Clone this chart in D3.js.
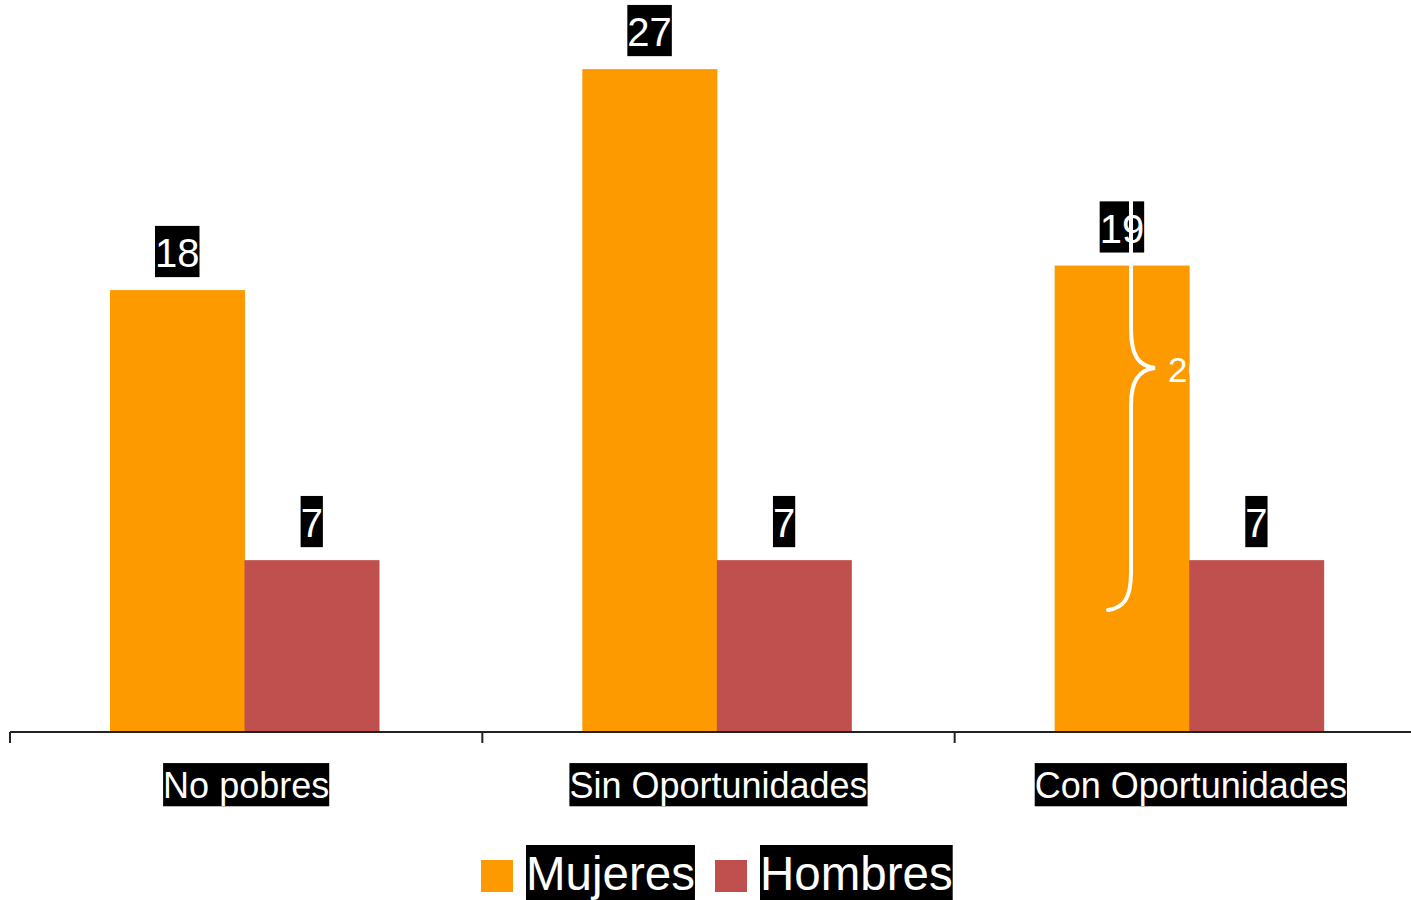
<!DOCTYPE html>
<html>
<head>
<meta charset="utf-8">
<script src="https://cdn.jsdelivr.net/npm/d3@7"></script>
<style>
  body { margin: 0; background: #fff; }
  svg { display: block; font-family: "Liberation Sans", Arial, sans-serif; }
</style>
</head>
<body>
<div id="chart"></div>
<script>
var categories = ['No pobres', 'Sin Oportunidades', 'Con Oportunidades'];
var series = ['Mujeres', 'Hombres'];
var mujeres = [18, 27, 19];
var hombres = [7, 7, 7];
var colors = ['#FD9A00', '#C0504D'];

var width = 1411, height = 900;
var baseY = 732;

var svg = d3.select('#chart')
    .append('svg')
    .attr('width', width)
    .attr('height', height);

var x0 = d3.scaleBand()
    .domain(categories)
    .range([10, 1427]);

var x1 = d3.scaleBand()
    .domain(series)
    .range([100, 369]);

var y = d3.scaleLinear()
    .domain([0, 30])
    .range([baseY, baseY - 30 * 24.55]);

var rows = categories.map(function(c, i) {
  return { cat: c, values: [mujeres[i], hombres[i]] };
});

// bars
var groups = svg.selectAll('g.grp')
    .data(rows)
    .enter()
    .append('g')
    .attr('class', 'grp')
    .attr('transform', function(d) { return 'translate(' + x0(d.cat) + ',0)'; });

groups.selectAll('rect')
    .data(function(d) {
      return d.values.map(function(v, k) { return { s: series[k], v: v, k: k }; });
    })
    .enter()
    .append('rect')
    .attr('x', function(d) { return x1(d.s); })
    .attr('y', function(d) { return y(d.v); })
    .attr('width', x1.bandwidth() + 0.5)
    .attr('height', function(d) { return baseY - y(d.v); })
    .attr('fill', function(d) { return colors[d.k]; });

// text with black box behind
function boxedText(parent, txt, cx, baseline, fs, top, h) {
  var g = parent.append('g');
  var r = g.append('rect').attr('fill', '#000');
  var t = g.append('text')
      .attr('x', cx)
      .attr('y', baseline)
      .attr('text-anchor', 'middle')
      .attr('fill', '#fff')
      .style('font-size', fs + 'px')
      .text(txt);
  var bb = t.node().getBBox();
  r.attr('x', bb.x)
   .attr('width', bb.width)
   .attr('y', baseline - top * fs)
   .attr('height', h * fs);
  return g;
}

// value labels
rows.forEach(function(d) {
  d.values.forEach(function(v, k) {
    var cx = x0(d.cat) + x1(series[k]) + x1.bandwidth() / 2;
    boxedText(svg, v, cx, y(v) - 23, 40, 1.03, 1.28);
  });
});

// axis
svg.append('line')
    .attr('x1', 10).attr('x2', width)
    .attr('y1', baseY).attr('y2', baseY)
    .attr('stroke', '#222')
    .attr('stroke-width', 2);

svg.selectAll('line.tick')
    .data(categories)
    .enter()
    .append('line')
    .attr('class', 'tick')
    .attr('x1', function(d) { return x0(d); })
    .attr('x2', function(d) { return x0(d); })
    .attr('y1', baseY)
    .attr('y2', baseY + 11)
    .attr('stroke', '#222')
    .attr('stroke-width', 2);

categories.forEach(function(c) {
  boxedText(svg, c, x0(c) + x0.bandwidth() / 2, 798, 36, 0.97, 1.2);
});

// brace annotation on third group
svg.append('path')
    .attr('d', 'M1131,201 L1131,328 C1131,355 1138,366 1155,368 C1138,370 1131,382 1131,405 L1131,572 C1131,598 1124,608 1108,610')
    .attr('fill', 'none')
    .attr('stroke', '#fff')
    .attr('stroke-width', 4)
    .attr('stroke-linecap', 'round');

svg.append('text')
    .attr('x', 1168)
    .attr('y', 382)
    .attr('fill', '#fff')
    .style('font-size', '35px')
    .text('26');

// legend
var legX = [481, 715];
series.forEach(function(s, k) {
  svg.append('rect')
      .attr('x', legX[k])
      .attr('y', 860)
      .attr('width', 32)
      .attr('height', 32)
      .attr('fill', colors[k]);
  var g = svg.append('g');
  var r = g.append('rect').attr('fill', '#000');
  var t = g.append('text')
      .attr('x', legX[k] + 45)
      .attr('y', 890)
      .attr('fill', '#fff')
      .style('font-size', '47.5px')
      .text(s);
  var bb = t.node().getBBox();
  r.attr('x', bb.x).attr('width', bb.width)
   .attr('y', 845).attr('height', 55);
});
</script>
</body>
</html>
